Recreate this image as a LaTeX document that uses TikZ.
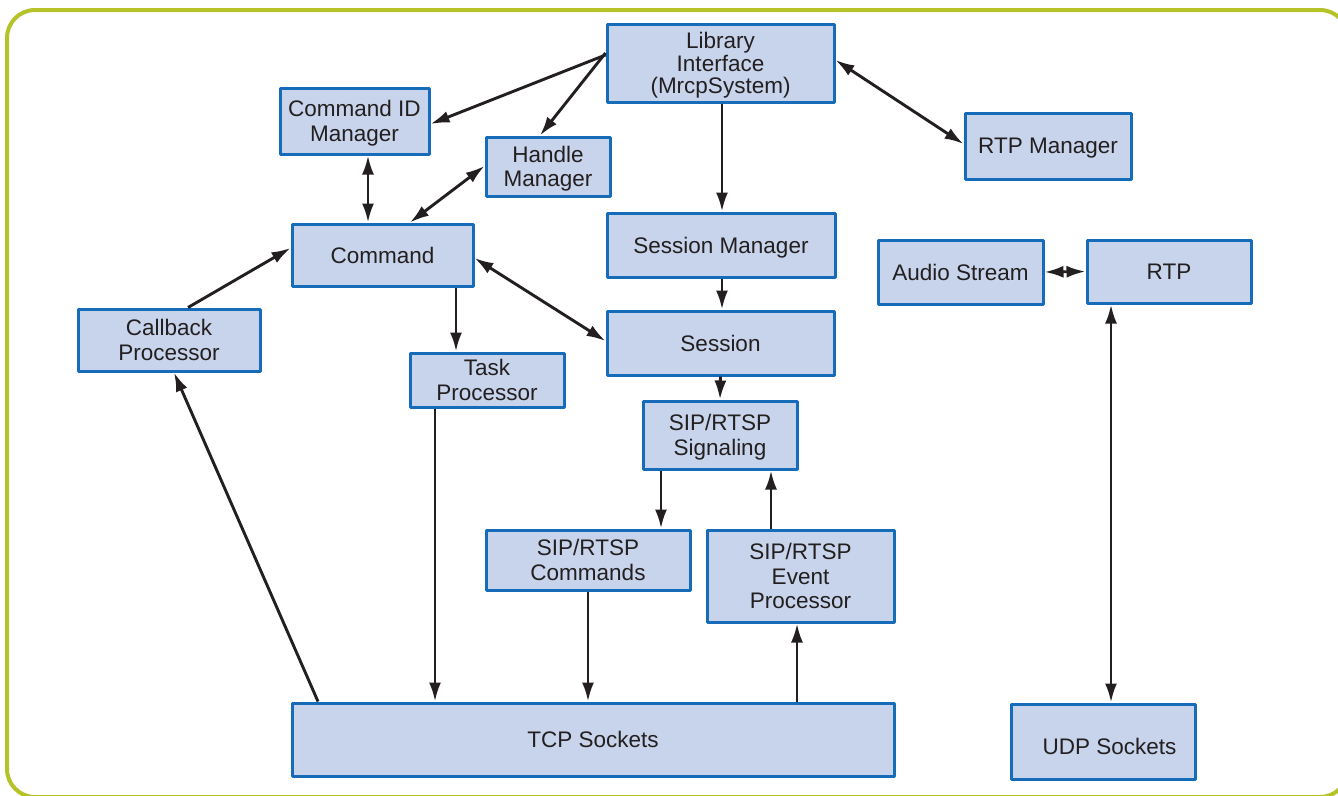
\documentclass[tikz,border=0pt]{standalone}
\usepackage{fontspec}
\setmainfont{Liberation Sans}
\usetikzlibrary{arrows.meta}

\definecolor{framegreen}{RGB}{181,195,40}
\definecolor{boxfill}{RGB}{200,212,235}
\definecolor{boxline}{RGB}{22,108,184}
\definecolor{arrowink}{RGB}{35,31,32}

\tikzset{
  block/.style 2 args={draw=boxline,fill=boxfill,line width=3pt,align=center,
    minimum width=#1pt,minimum height=#2pt,inner sep=0pt,text depth=0pt,
    font=\fontsize{22.5}{24.5}\selectfont,text=arrowink},
  link/.style={draw=arrowink,line width=2.9pt,
    >={Latex[length=19pt,width=12pt]}}
}

\begin{document}
\begin{tikzpicture}[x=1pt,y=-1pt,line join=round]
  \useasboundingbox (0,0) rectangle (1338,795);
  \begin{scope}
    \clip (0,0) rectangle (1338,795);
    \draw[framegreen,line width=4pt,rounded corners=28pt] (7,10) rectangle (1348,797);
  \end{scope}
  % blocks
  \node[block={227}{78},font=\fontsize{22.5}{22.3}\selectfont] (lib) at (720.5,63) {Library\\Interface\\(MrcpSystem)};
  \node[block={149}{66}] (cidm) at (354.5,121) {Command ID\\Manager};
  \node[block={124}{59}] (hdl)  at (548,166.5) {Handle\\Manager};
  \node[block={166}{66}] (rtpm) at (1048,146)  {RTP Manager};
  \node[block={181}{62}] (cmd)  at (382.5,255) {Command};
  \node[block={228}{64}] (sesm) at (721,245)   {Session Manager};
  \node[block={165}{64}] (aud)  at (960.5,272) {Audio Stream};
  \node[block={164}{63}] (rtp)  at (1169,271.5) {RTP};
  \node[block={182}{62}] (cbp)  at (169,340)   {Callback\\Processor};
  \node[block={227}{64}] (ses)  at (720.5,343) {Session};
  \node[block={154}{54}] (task) at (487,380)   {Task\\Processor};
  \node[block={154}{68}] (sig)  at (720,435)   {SIP/RTSP\\Signaling};
  \node[block={204}{60}] (sipc) at (588,560)   {SIP/RTSP\\Commands};
  \node[block={187}{92}] (sipe) at (800.5,576) {SIP/RTSP\\Event\\Processor};
  \node[block={602}{73}] (tcp)  at (593,739.5) {TCP Sockets};
  \node[block={184}{75}] (udp)  at (1103,741.5) {\hspace*{13pt}\raisebox{-5pt}[16pt][0pt]{UDP Sockets}};
  % connectors
  \draw[link,->]  (lib.west |- 0,55) -- (cidm.east |- 0,124);
  \draw[link,->]  ([yshift=10pt]lib.west) -- ([xshift=-8pt]hdl.north);
  \draw[link,<->] ([yshift=3pt]lib.east) -- ([yshift=2pt]rtpm.west);
  \draw[link,->]  ([xshift=1.5pt]lib.south) -- ([xshift=1pt]sesm.north);
  \draw[link,<->] ([xshift=13.5pt]cidm.south) -- ([xshift=-14.5pt]cmd.north);
  \draw[link,<->] ([xshift=27.5pt]cmd.north) -- ([yshift=0.5pt]hdl.west);
  \draw[link,->]  ([xshift=19pt]cbp.north) -- ([yshift=7pt]cmd.west);
  \draw[link,->]  ([xshift=73.5pt]cmd.south) -- ([xshift=-31pt]task.north);
  \draw[link,<->] ([yshift=-3pt]cmd.east) -- ([yshift=2pt]ses.west);
  \draw[link,->]  ([xshift=1pt]sesm.south) -- ([xshift=1.5pt]ses.north);
  \draw[link,->]  (ses.south) -- (sig.north);
  \draw[link,->]  ([xshift=-59pt]sig.south) -- ([xshift=73pt]sipc.north);
  \draw[link,->]  ([xshift=-29.5pt]sipe.north) -- ([xshift=51pt]sig.south);
  \draw[link,<->] (aud.east) -- (rtp.west);
  \draw[link,<->] ([xshift=-58pt]rtp.south) -- ([xshift=8pt]udp.north);
  \draw[link,->]  ([xshift=-275pt]tcp.north) -- ([xshift=5pt]cbp.south);
  \draw[link,->]  ([xshift=-52pt]task.south) -- ([xshift=-158pt]tcp.north);
  \draw[link,->]  (sipc.south) -- ([xshift=-5pt]tcp.north);
  \draw[link,->]  ([xshift=204pt]tcp.north) -- ([xshift=-3.5pt]sipe.south);
\end{tikzpicture}
\end{document}
